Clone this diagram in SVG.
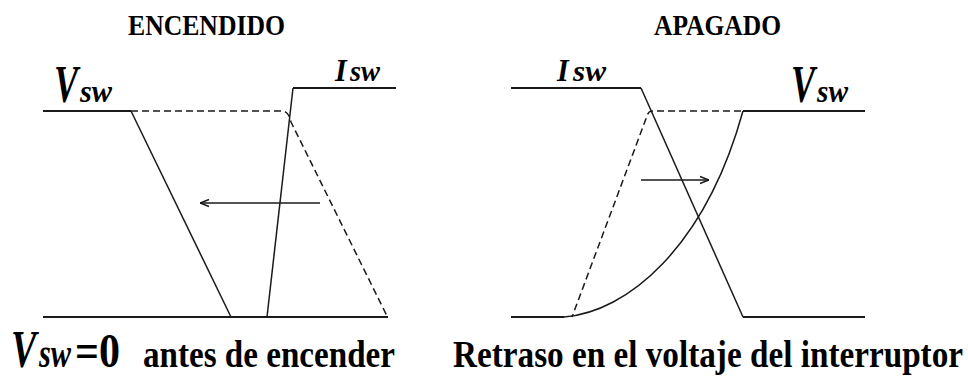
<svg xmlns="http://www.w3.org/2000/svg" width="968" height="376" viewBox="0 0 968 376">
<style>
text{font-family:"Liberation Serif","DejaVu Serif",serif;font-weight:700;fill:#000}
.i{font-style:italic}
.s{fill:none;stroke:#1a1a1a;stroke-width:1.5}
.h{fill:none;stroke:#1a1a1a;stroke-width:2}
.d{fill:none;stroke:#1a1a1a;stroke-width:1.5;stroke-dasharray:7 4}
</style>
<defs>
<marker id="ah" viewBox="0 0 10 10" refX="10" refY="5" markerWidth="10" markerHeight="10" markerUnits="userSpaceOnUse" orient="auto">
<path d="M1,1.5 L10,5 L1,8.5" fill="none" stroke="#1a1a1a" stroke-width="1.4"/>
</marker>
</defs>
<rect width="968" height="376" fill="#fff"/>

<g id="titles">
<text font-size="26" transform="translate(128,35) scale(1,1.16)" textLength="157" lengthAdjust="spacingAndGlyphs">ENCENDIDO</text>
<text font-size="26" transform="translate(654,35) scale(1,1.16)" textLength="127" lengthAdjust="spacingAndGlyphs">APAGADO</text>
</g>

<g id="left-vsw-label">
<text class="i" font-size="36" transform="translate(54,102) scale(1,1.45)">V</text>
<text class="i" font-size="28" transform="translate(80,102) scale(1,1.16)" textLength="32" lengthAdjust="spacingAndGlyphs">sw</text>
</g>
<g id="left-isw-label">
<text class="i" font-size="30" transform="translate(335,81) scale(1,1.08)">I</text>
<text class="i" font-size="26" transform="translate(350,81) scale(1,1.1)" textLength="30" lengthAdjust="spacingAndGlyphs">sw</text>
</g>
<g id="right-isw-label">
<text class="i" font-size="30" transform="translate(557,81) scale(1,1.08)">I</text>
<text class="i" font-size="26" transform="translate(573,81) scale(1,1.1)" textLength="33" lengthAdjust="spacingAndGlyphs">sw</text>
</g>
<g id="right-vsw-label">
<text class="i" font-size="36" transform="translate(791,102) scale(1,1.45)">V</text>
<text class="i" font-size="28" transform="translate(817,102) scale(1,1.16)" textLength="31" lengthAdjust="spacingAndGlyphs">sw</text>
</g>

<g id="left-waveforms">
<path class="h" d="M43,111 L131,111"/>
<path class="s" d="M131,111 L231,317"/>
<path class="h" d="M43,317 L388,317"/>
<path class="h" d="M293,88 L396,88"/>
<path class="s" d="M293,88 L267,317"/>
<path class="d" d="M131,111 L283,111 Q289,112 291,122 L387,316"/>
</g>

<g id="right-waveforms">
<path class="h" d="M511,88 L641,88"/>
<path class="s" d="M641,88 L743,317"/>
<path class="h" d="M743,317 L865,317"/>
<path class="h" d="M511,317 L564,317"/>
<path class="h" d="M743,111 L865,111"/>
<path class="s" d="M564,317 C627,312 705,248 743,111"/>
<path class="d" d="M741,111 L651,111 Q648,112 647,116 L572,317"/>
</g>

<g id="connectors">
<path class="s" d="M320,203 L200,203" marker-end="url(#ah)"/>
<path class="s" d="M641,180 L709,180" marker-end="url(#ah)"/>
</g>

<g id="captions">
<text class="i" font-size="38" transform="translate(11,367) scale(1,1.38)">V</text>
<text class="i" font-size="30" transform="translate(39,367) scale(1,1.3)" textLength="32" lengthAdjust="spacingAndGlyphs">sw</text>
<text font-size="40" transform="translate(75,367) scale(1,1.22)" textLength="45" lengthAdjust="spacingAndGlyphs">=0</text>
<text font-size="33" transform="translate(143,367) scale(1,1.16)" textLength="252" lengthAdjust="spacingAndGlyphs">antes de encender</text>
<text font-size="33" transform="translate(453,367) scale(1,1.16)" textLength="510" lengthAdjust="spacingAndGlyphs">Retraso en el voltaje del interruptor</text>
</g>
</svg>
